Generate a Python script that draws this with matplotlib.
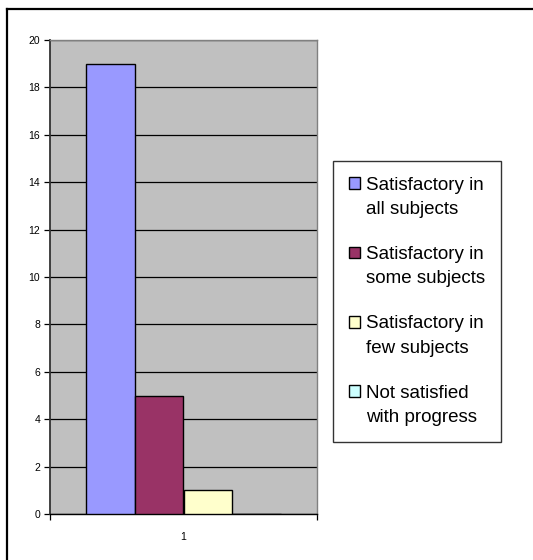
import matplotlib
matplotlib.use("Agg")
import matplotlib.pyplot as plt
from matplotlib.lines import Line2D
from matplotlib.patches import Rectangle
from matplotlib.legend_handler import HandlerPatch
from matplotlib.container import BarContainer
import numpy as np

plt.rcParams['font.family'] = ['Liberation Sans', 'DejaVu Sans']

# data
series = ["Satisfactory in\nall subjects", "Satisfactory in\nsome subjects",
          "Satisfactory in\nfew subjects", "Not satisfied\nwith progress"]
values = [19, 5, 1, 0]
colors = ["#9999FF", "#993366", "#FFFFCC", "#CCFFFF"]
category = "1"

W, H = 533, 560
fig = plt.figure(figsize=(W / 100, H / 100), dpi=100)

# outer chart frame (only top and left edges are inside the picture)
fig.add_artist(Line2D([7 / W, 7 / W], [0, 1 - 8.5 / H], color="black", lw=1.6,
                      transform=fig.transFigure))
fig.add_artist(Line2D([7 / W, 1], [1 - 8.5 / H, 1 - 8.5 / H], color="black", lw=1.6,
                      transform=fig.transFigure))

# plot area in pixels
left, right, top, bottom = 50, 317, 40, 514
ax = fig.add_axes([left / W, 1 - bottom / H, (right - left) / W, (bottom - top) / H])
ax.set_facecolor("#C0C0C0")

# excel style clustered bars: gap width 150%
n = len(values)
slot = 1 / (n + 1.5)
for i, (v, c, lab) in enumerate(zip(values, colors, series)):
    x = 0.75 * slot + (i + 0.5) * slot
    ax.bar(x, v, width=slot, color=c, edgecolor="black", linewidth=1, label=lab, zorder=3)

ax.set_xlim(0, 1)
ax.set_ylim(0, 20)
ax.set_yticks(range(0, 21, 2))
ax.yaxis.grid(True, color="black", linewidth=0.9)
ax.set_axisbelow(True)
ax.tick_params(axis="y", labelsize=7.5, length=4, width=0.9, pad=3)
ax.set_xticks([0.5])
ax.set_xticklabels([category])
ax.set_xticks([0, 1], minor=True)
ax.tick_params(axis="x", which="major", length=0, labelsize=7.5, pad=13)
ax.tick_params(axis="x", which="minor", length=4, width=0.9)

for s in ["top", "right"]:
    ax.spines[s].set_color("#808080")
    ax.spines[s].set_linewidth(1)
ax.spines["left"].set_color("#333333")
ax.spines["left"].set_linewidth(1.3)
ax.spines["bottom"].set_color("black")
ax.spines["bottom"].set_linewidth(1)


# put the legend square next to the first line of the label, like excel does
def top_square(legend, orig_handle, xdescent, ydescent, width, height, fontsize):
    return Rectangle((-xdescent, -ydescent + 0.75 * fontsize), width, height)


def from_first_bar(handle, orig):
    handle.update_from(orig.patches[0])


leg = fig.legend(loc="upper left", bbox_to_anchor=(333 / W, 1 - 161 / H),
                 fontsize=13.5, frameon=True, fancybox=False, edgecolor="black",
                 handlelength=0.58, handleheight=0.58, handletextpad=0.35,
                 labelspacing=1.5, borderpad=0.85, borderaxespad=0,
                 handler_map={BarContainer: HandlerPatch(patch_func=top_square,
                                                         update_func=from_first_bar)})
leg.get_frame().set_linewidth(1)
for t in leg.get_texts():
    t.set_linespacing(1.55)

fig.savefig("out.png", dpi=100)
